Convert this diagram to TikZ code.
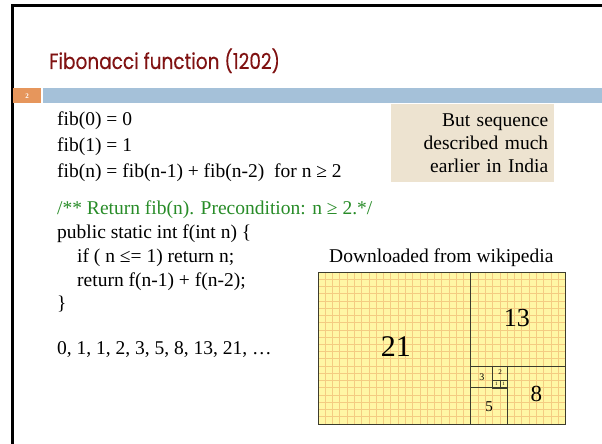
\documentclass[tikz,border=0pt]{standalone}
\usepackage{fontspec}
\setmainfont{Liberation Serif}
\newfontfamily\titlefont[FakeStretch=0.84,FakeBold=0.2]{Poppins}
\usetikzlibrary{positioning}

\definecolor{titlered}{RGB}{128,18,18}
\definecolor{barblue}{RGB}{165,193,217}
\definecolor{barorange}{RGB}{230,150,92}
\definecolor{notebeige}{RGB}{237,227,208}
\definecolor{commentgreen}{RGB}{40,140,40}
\definecolor{fibyellow}{RGB}{255,247,165}
\definecolor{fibgrid}{RGB}{244,204,130}
\definecolor{fibline}{RGB}{60,60,45}

\tikzset{
  body/.style={anchor=base west, inner sep=0pt, font=\fontsize{19.5}{23.5}\selectfont},
  code/.style={body},
  notebox/.style={anchor=north west, fill=notebeige, inner xsep=6pt, inner ysep=0pt,
    text width=151pt, minimum height=78pt, align=right, font=\fontsize{19.5}{23.2}\selectfont},
  sqline/.style={draw=fibline, line width=0.9},
  sqlabel/.style={inner sep=0pt, text=black}
}

\begin{document}
\begin{tikzpicture}[x=1pt,y=-1pt]
\useasboundingbox (0,0) rectangle (602,444);
\fill[white] (0,0) rectangle (602,444);
% slide frame
\draw[line width=3](12,444) -- (12,6) -- (602,6);

% title
\node[anchor=base west, inner sep=0pt, text=titlered, font=\titlefont\fontsize{22}{26}\selectfont] (title) at (49,69) {Fibonacci function (1202)};

% header bar
\fill[barorange](13,88) rectangle (41,103);
\fill[barblue](43,88) rectangle (602,103);
\node[inner sep=0pt, text=white, font=\bfseries\fontsize{7}{8}\selectfont] (slidenum) at (27,96) {2};

% definition
\node[body] (fib0) at (57,125) {fib(0) = 0};
\node[body] (fib1) at (57,151) {fib(1) = 1};
\node[body] (fibn) at (57,177) {fib(n) = fib(n-1) + fib(n-2)\ \ for n ≥ 2};

% note
\node[notebox] (note) at (391,104) {But sequence\\described much\\earlier in India};

% code
\node[code, text=commentgreen] (comment) at (57,214) {/** Return fib(n). Precondition: n ≥ 2.*/};
\node[code] (sig) at (57,238) {public static int f(int n) \{};
\node[code] (ifline) at (77,262) {if ( n ≤= 1) return n;};
\node[code] (retline) at (77,286) {return f(n-1) + f(n-2);};
\node[code] (close) at (57,309) {\}};

\node[body] (seq) at (57,354) {0, 1, 1, 2, 3, 5, 8, 13, 21, …};

% picture
\node[body] (source) at (329,262) {Downloaded from wikipedia};

\begin{scope}[shift={(318,272)}, x=7.28pt, y=-7.24pt]
\fill[fibyellow](0,0) rectangle (34,21);
\foreach \i in {1,...,33}
  \draw[fibgrid, line width=0.8](\i,0) -- (\i,21);
\foreach \j in {1,...,20}
  \draw[fibgrid, line width=0.8](0,\j) -- (34,\j);
\draw[sqline](0,0) rectangle (21,21);
\draw[sqline](21,0) rectangle (34,13);
\draw[sqline](26,13) rectangle (34,21);
\draw[sqline](21,16) rectangle (26,21);
\draw[sqline](21,13) rectangle (24,16);
\draw[sqline](24,13) rectangle (26,15);
\draw[sqline, line width=0.6](24,15) rectangle (25,16);
\draw[sqline, line width=0.6](25,15) rectangle (26,16);
\node[sqlabel, font=\fontsize{30}{30}\selectfont] (sq21) at (10.7,10.3) {21};
\node[sqlabel, font=\fontsize{26}{26}\selectfont] (sq13) at (27.3,6.3) {13};
\node[sqlabel, font=\fontsize{23}{23}\selectfont] (sq8) at (30,16.9) {8};
\node[sqlabel, font=\fontsize{15}{15}\selectfont] (sq5) at (23.5,18.6) {5};
\node[sqlabel, font=\fontsize{10}{10}\selectfont] (sq3) at (22.5,14.5) {3};
\node[sqlabel, font=\fontsize{7}{7}\selectfont] (sq2) at (25,13.9) {2};
\node[sqlabel, font=\fontsize{5}{5}\selectfont] (sq1a) at (24.5,15.5) {1};
\node[sqlabel, font=\fontsize{5}{5}\selectfont] (sq1b) at (25.5,15.5) {1};
\end{scope}
\end{tikzpicture}
\end{document}
